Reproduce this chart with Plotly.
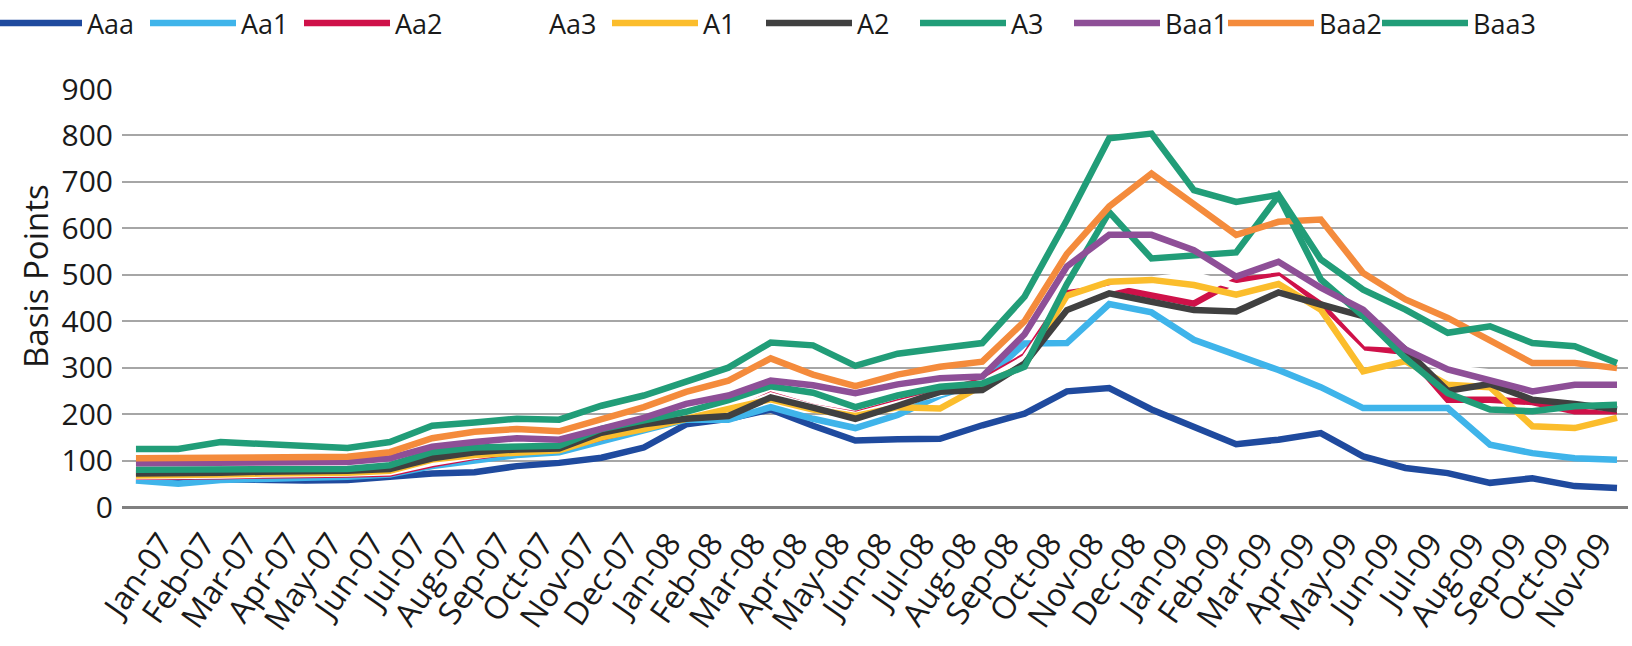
import plotly.graph_objects as go

# Month labels on the category axis (Jan-07 .. Nov-09); data runs to Dec-09
months = ["Jan-07", "Feb-07", "Mar-07", "Apr-07", "May-07", "Jun-07", "Jul-07", "Aug-07",
          "Sep-07", "Oct-07", "Nov-07", "Dec-07", "Jan-08", "Feb-08", "Mar-08", "Apr-08",
          "May-08", "Jun-08", "Jul-08", "Aug-08", "Sep-08", "Oct-08", "Nov-08", "Dec-08",
          "Jan-09", "Feb-09", "Mar-09", "Apr-09", "May-09", "Jun-09", "Jul-09", "Aug-09",
          "Sep-09", "Oct-09", "Nov-09"]

# Spreads in basis points, Jan-07 .. Dec-09 (36 monthly observations)
aaa = [62, 60, 60, 58, 57, 58, 65, 72, 75, 88, 95, 106, 128, 178, 190, 210, 175, 143,
       146, 147, 176, 201, 249, 256, 210, 172, 135, 145, 159, 109, 84, 73, 52, 62, 45, 41]
aa1 = [57, 50, 58, 62, 63, 65, 70, 88, 100, 112, 118, 140, 165, 188, 188, 215, 190, 170,
       198, 240, 270, 352, 353, 437, 419, 360, 328, 295, 258, 213, 213, 213, 134, 116, 105, 102]
aa2 = [65, 64, 66, 68, 68, 70, 72, 92, 108, 120, 125, 150, 170, 195, 200, 242, 215, 200,
       225, 250, 272, 325, 460, 473, 455, 438, 488, 498, 436, 339, 335, 231, 231, 226, 206, 206]
aa3 = [66, 66, 68, 70, 70, 72, 75, 95, 110, 122, 128, 152, 172, 198, 205, 240, 215, 198,
       222, 245, 268, 320, 450, 470, 490, 500, 475, 490, 420, 330, 320, 300, 290, 240, 220, 212]
a1 = [68, 68, 70, 72, 72, 74, 78, 102, 112, 118, 122, 150, 168, 190, 212, 232, 210, 196,
      215, 212, 262, 305, 455, 485, 489, 478, 457, 480, 425, 292, 314, 263, 258, 174, 170, 192]
a2 = [72, 72, 74, 76, 76, 78, 82, 105, 118, 124, 126, 160, 178, 190, 196, 236, 214, 190,
      218, 248, 252, 309, 424, 460, 442, 424, 421, 462, 436, 411, 339, 250, 265, 231, 222, 210]
a3 = [80, 80, 82, 80, 80, 82, 90, 118, 128, 130, 132, 168, 185, 205, 230, 260, 246, 215,
      240, 259, 266, 302, 480, 635, 535, 543, 548, 670, 490, 411, 320, 245, 210, 206, 217, 220]
baa1 = [94, 94, 96, 96, 95, 97, 105, 130, 140, 148, 145, 168, 192, 222, 240, 272, 262, 245,
        264, 277, 281, 372, 518, 586, 586, 553, 496, 528, 472, 425, 339, 296, 271, 249, 263, 263]
baa2 = [105, 105, 106, 107, 107, 108, 118, 148, 162, 168, 163, 190, 215, 248, 272, 320, 285, 260,
        285, 302, 313, 400, 545, 647, 718, 652, 586, 614, 619, 504, 447, 407, 360, 310, 310, 299]
baa3 = [125, 125, 140, 135, 130, 127, 140, 175, 182, 190, 188, 218, 240, 270, 300, 354, 348, 304,
        330, 342, 353, 453, 618, 794, 804, 682, 657, 672, 533, 468, 425, 375, 389, 353, 346, 310]

series = [
    ("Aaa", aaa, "#1f4a9e"),
    ("Aa1", aa1, "#3fb4ea"),
    ("Aa2", aa2, "#cf1149"),
    ("Aa3", aa3, "#ffffff"),
    ("A1", a1, "#fbbd2c"),
    ("A2", a2, "#404040"),
    ("A3", a3, "#219d78"),
    ("Baa1", baa1, "#8e4f97"),
    ("Baa2", baa2, "#f48b3c"),
    ("Baa3", baa3, "#219d78"),
]

FONT = "Open Sans, Noto Sans, sans-serif"
NARROW = "Liberation Sans Narrow, Open Sans, sans-serif"
x = list(range(len(aaa)))

# plot area geometry (px) used to place the legend at the page's top-left corner
W, H = 1632, 646
ML, MR, MT, MB = 122, 4, 89, 139
PW, PH = W - ML - MR, H - MT - MB

fig = go.Figure()
for name, vals, color in series:
    fig.add_trace(go.Scatter(
        x=x, y=vals, name=name, mode="lines",
        line=dict(color=color, width=6.5),
        hoverinfo="skip",
        # the last legend entry gets room for its full label
        legendwidth=72 if name == "Baa3" else None,
    ))

fig.update_layout(
    width=W, height=H,
    margin=dict(l=ML, r=MR, t=MT, b=MB, autoexpand=False),
    paper_bgcolor="white", plot_bgcolor="white",
    font=dict(family=FONT, color="#1a1a1a", size=28),
    showlegend=True,
    legend=dict(
        orientation="h",
        xref="paper", yref="paper",
        x=-(ML + 9) / PW, y=1 + (MT + 1) / PH, xanchor="left", yanchor="top",
        font=dict(size=27, family=FONT),
        itemwidth=86,
        entrywidth=53, entrywidthmode="pixels",
        bgcolor="rgba(0,0,0,0)",
        traceorder="normal",
    ),
    xaxis=dict(
        range=[-0.33, 35.26],
        tickmode="array",
        tickvals=[i + 0.6 for i in range(len(months))],
        ticktext=months,
        tickangle=-55,
        tickfont=dict(size=32, family=NARROW),
        showgrid=False, zeroline=False, showline=False,
        ticks="",
        ticklabelstandoff=10,
    ),
    yaxis=dict(
        range=[0, 900],
        tickmode="linear", tick0=0, dtick=100,
        tickfont=dict(size=30),
        showgrid=True, gridcolor="#a6a6a6", gridwidth=1.5,
        zeroline=True, zerolinecolor="#808080", zerolinewidth=3,
        showline=False, ticks="",
        ticklabelstandoff=8,
    ),
    annotations=[dict(
        text="Basis Points", textangle=-90,
        xref="paper", yref="paper", x=-0.057, y=0.553,
        xanchor="center", yanchor="middle", showarrow=False,
        font=dict(size=33, family=FONT),
    )],
)

fig.write_html("out.html")
